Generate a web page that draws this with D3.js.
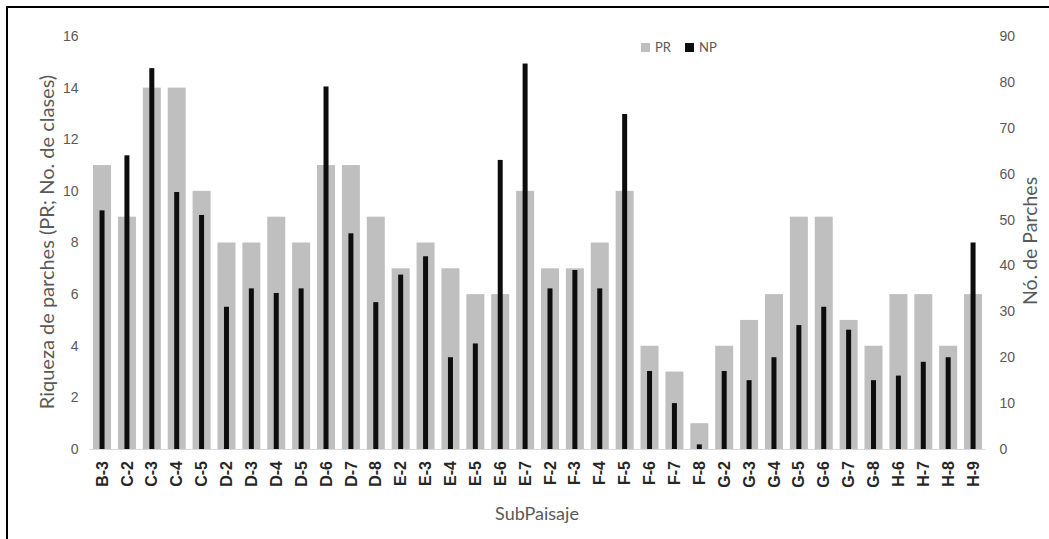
<!DOCTYPE html>
<html>
<head>
<meta charset="utf-8">
<script src="https://cdn.jsdelivr.net/npm/d3@7"></script>
<style>
  html, body { margin: 0; padding: 0; background: #fff; }
  svg { display: block; font-family: Lato, "Open Sans", "Liberation Sans", sans-serif; }
</style>
</head>
<body>
<svg id="chart" width="1049" height="539"></svg>
<script>
const categories = ["B-3","C-2","C-3","C-4","C-5","D-2","D-3","D-4","D-5","D-6","D-7","D-8",
  "E-2","E-3","E-4","E-5","E-6","E-7","F-2","F-3","F-4","F-5","F-6","F-7","F-8",
  "G-2","G-3","G-4","G-5","G-6","G-7","G-8","H-6","H-7","H-8","H-9"];
const prValues = [11,9,14,14,10,8,8,9,8,11,11,9,7,8,7,6,6,10,7,7,8,10,4,3,1,4,5,6,9,9,5,4,6,6,4,6];
const npValues = [52,64,83,56,51,31,35,34,35,79,47,32,38,42,20,23,63,84,35,39,35,73,17,10,1,17,15,20,27,31,26,15,16,19,20,45];
const leftTicks = [0,2,4,6,8,10,12,14,16];
const rightTicks = [0,10,20,30,40,50,60,70,80,90];
const seriesNames = ["PR","NP"];
const seriesColors = ["#bfbfbf","#0d0d0d"];

const svg = d3.select("#chart");
const plot = {left: 89.6, right: 985.5, top: 36, bottom: 449};

// outer frame
svg.append("rect").attr("x", 7).attr("y", 7).attr("width", 1060).attr("height", 560)
  .attr("fill", "none").attr("stroke", "#000").attr("stroke-width", 2);

const x = d3.scaleBand().domain(categories).range([plot.left, plot.right]).paddingInner(0).paddingOuter(0);
const yL = d3.scaleLinear().domain([0,16]).range([plot.bottom, plot.top]);
const yR = d3.scaleLinear().domain([0,90]).range([plot.bottom, plot.top]);

const grayW = 18, blackW = 5;

svg.append("g").selectAll("rect").data(categories).join("rect")
  .attr("x", (d) => x(d) + x.bandwidth()/2 - grayW/2)
  .attr("width", grayW)
  .attr("y", (d,i) => yL(prValues[i]))
  .attr("height", (d,i) => yL(0) - yL(prValues[i]))
  .attr("fill", seriesColors[0]);

svg.append("g").selectAll("rect").data(categories).join("rect")
  .attr("x", (d) => x(d) + x.bandwidth()/2 - blackW/2)
  .attr("width", blackW)
  .attr("y", (d,i) => yR(npValues[i]))
  .attr("height", (d,i) => yR(0) - yR(npValues[i]))
  .attr("fill", seriesColors[1]);

// baseline
svg.append("line").attr("x1", plot.left).attr("x2", plot.right)
  .attr("y1", yL(0)+0.5).attr("y2", yL(0)+0.5).attr("stroke", "#d9d9d9").attr("stroke-width", 1);

// left axis
const gL = svg.append("g").attr("transform", `translate(${plot.left - 11},0)`)
  .call(d3.axisLeft(yL).tickValues(leftTicks).tickSize(0).tickPadding(0));
gL.select(".domain").remove();
gL.selectAll("text").attr("fill", "#595959").style("font-size", "14px").attr("x", 0);

// right axis
const gR = svg.append("g").attr("transform", `translate(${plot.right + 14},0)`)
  .call(d3.axisRight(yR).tickValues(rightTicks).tickSize(0).tickPadding(0));
gR.select(".domain").remove();
gR.selectAll("text").attr("fill", "#595959").style("font-size", "14px");

// x axis labels
const gX = svg.append("g").attr("transform", `translate(0,${plot.bottom})`)
  .call(d3.axisBottom(x).tickSize(0).tickPadding(0));
gX.select(".domain").remove();
gX.selectAll("text")
  .attr("fill", "#262626").style("font-size", "16px").style("font-weight", "700")
  .attr("transform", "rotate(-90)")
  .attr("text-anchor", "end")
  .attr("x", -12).attr("y", 0).attr("dy", "0.35em");

// axis titles
svg.append("text").attr("transform", "translate(54,242) rotate(-90)")
  .attr("text-anchor", "middle").attr("fill", "#595959").style("font-size", "20px")
  .text("Riqueza de parches (PR; No. de clases)");
svg.append("text").attr("transform", "translate(1037,241) rotate(-90)")
  .attr("text-anchor", "middle").attr("fill", "#595959").style("font-size", "19.5px")
  .text("Nó. de Parches");
svg.append("text").attr("x", 537).attr("y", 520)
  .attr("text-anchor", "middle").attr("fill", "#595959").style("font-size", "18px")
  .text("SubPaisaje");

// legend
const legendX = [641, 685];
const lg = svg.append("g").selectAll("g").data(seriesNames).join("g")
  .attr("transform", (d,i) => `translate(${legendX[i]},43)`);
lg.append("rect").attr("width", 9).attr("height", 9).attr("fill", (d,i) => seriesColors[i]);
lg.append("text").attr("x", 14).attr("y", 4.5).attr("dy", "0.35em")
  .attr("fill", "#595959").style("font-size", "13px").text((d) => d);
</script>
</body>
</html>
